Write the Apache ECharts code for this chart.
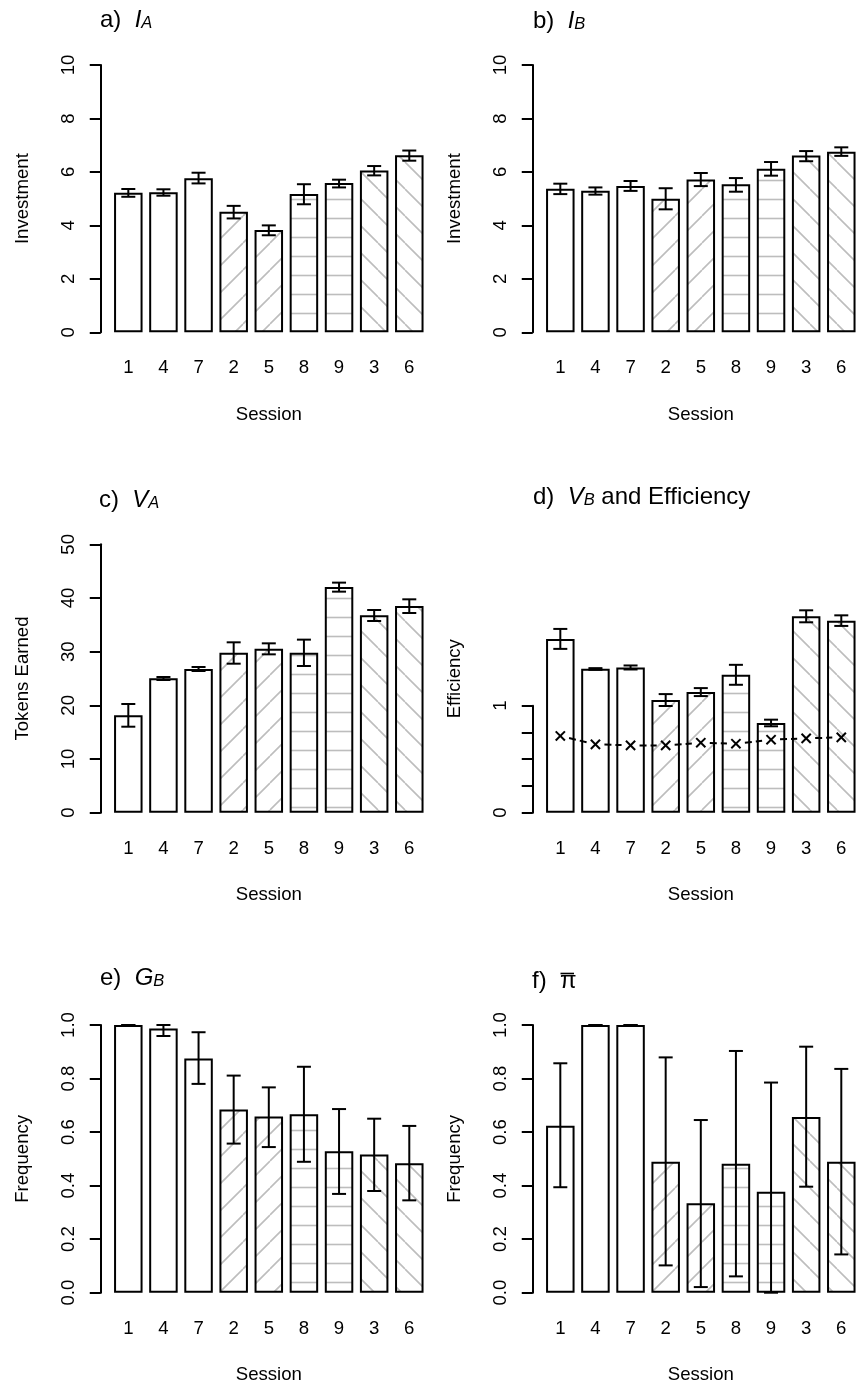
<!DOCTYPE html>
<html><head><meta charset="utf-8">
<script src="https://cdn.jsdelivr.net/npm/echarts@6/dist/echarts.min.js"></script>
<style>html,body{margin:0;padding:0;background:#fff}#c{width:859px;height:1389px}</style>
</head><body><div id="c"></div><script>
// ---------- data ----------
const sessions = ['1','4','7','2','5','8','9','3','6'];
const hatchKind = ['none','none','none','fwd','fwd','horiz','horiz','back','back'];

// a) I_A
const iaMean = [5.22,5.24,5.76,4.51,3.83,5.17,5.59,6.05,6.62];
const iaLo   = [5.07,5.11,5.57,4.26,3.63,4.79,5.42,5.87,6.42];
const iaHi   = [5.36,5.35,5.97,4.73,4.00,5.54,5.71,6.22,6.80];
// b) I_B
const ibMean = [5.37,5.30,5.47,5.00,5.72,5.54,6.12,6.61,6.75];
const ibLo   = [5.17,5.15,5.29,4.60,5.47,5.26,5.86,6.40,6.60];
const ibHi   = [5.56,5.42,5.66,5.39,5.96,5.77,6.37,6.78,6.92];
// c) V_A (tokens)
const vaMean = [18.14,25.03,26.77,29.81,30.56,29.81,42.05,36.77,38.51];
const vaLo   = [16.02,24.72,26.40,27.76,29.50,27.33,41.18,35.71,37.20];
const vaHi   = [20.25,25.28,27.14,31.74,31.55,32.24,42.86,37.76,39.75];
// d) V_B (tokens) and efficiency
const vbMean = [32.48,26.89,27.14,21.06,22.55,25.78,16.77,36.71,35.90];
const vbLo   = [30.62,26.71,26.77,19.94,21.80,23.91,16.15,35.59,34.91];
const vbHi   = [34.35,27.02,27.52,22.17,23.29,27.64,17.39,37.83,36.89];
const efficiency = [0.717,0.639,0.629,0.629,0.654,0.645,0.682,0.695,0.704];
// e) G_B
const gbMean = [1.000,0.987,0.875,0.684,0.658,0.667,0.528,0.516,0.484];
const gbLo   = [1.000,0.959,0.780,0.557,0.544,0.489,0.369,0.380,0.345];
const gbHi   = [1.000,1.000,0.973,0.811,0.767,0.844,0.686,0.650,0.623];
// f) pi-bar
const piMean = [0.624,1.000,1.000,0.489,0.334,0.482,0.377,0.656,0.489];
const piLo   = [0.394,1.000,1.000,0.102,0.021,0.061,0.000,0.396,0.143];
const piHi   = [0.857,1.000,1.000,0.879,0.645,0.903,0.785,0.919,0.836];

// ---------- styling ----------
const F = 'Liberation Sans, Arial, Helvetica, sans-serif';
const HATCH = '#bdbdbd';

function makePattern(kind){
  const s = kind === 'horiz' ? 19 : 27;
  const c = document.createElement('canvas');
  c.width = s; c.height = s;
  const g = c.getContext('2d');
  g.fillStyle = '#fff'; g.fillRect(0,0,s,s);
  g.strokeStyle = HATCH; g.lineWidth = 1.6;
  g.beginPath();
  if (kind === 'horiz') { g.moveTo(0, s/2); g.lineTo(s, s/2); }
  else if (kind === 'fwd') { for (let k=-1;k<=1;k++){ g.moveTo(k*s, s); g.lineTo(k*s+s, 0);} }
  else if (kind === 'back') { for (let k=-1;k<=1;k++){ g.moveTo(k*s, 0); g.lineTo(k*s+s, s);} }
  g.stroke();
  return {image: c, repeat: 'repeat'};
}
const patterns = {none:'#fff', fwd: makePattern('fwd'), horiz: makePattern('horiz'), back: makePattern('back')};

const panels = [
  {mean: iaMean, lo: iaLo, hi: iaHi, max:10, interval:2, name:'Investment', fmt: v => String(v)},
  {mean: ibMean, lo: ibLo, hi: ibHi, max:10, interval:2, name:'Investment', fmt: v => String(v)},
  {mean: vaMean, lo: vaLo, hi: vaHi, max:50, interval:10, name:'Tokens Earned', fmt: v => String(v)},
  {mean: vbMean, lo: vbLo, hi: vbHi, max:1, interval:0.25, name:'Efficiency', fmt: v => (v===0||v===1)?String(v):''},
  {mean: gbMean, lo: gbLo, hi: gbHi, max:1, interval:0.2, name:'Frequency', fmt: v => v.toFixed(1)},
  {mean: piMean, lo: piLo, hi: piHi, max:1, interval:0.2, name:'Frequency', fmt: v => v.toFixed(1)}
];
const gridPos = [
  {left:110.75, top:65,    height:267.3},
  {left:542.75, top:65,    height:267.3},
  {left:110.75, top:544.3, height:268.4},
  {left:542.75, top:705.7, height:107},
  {left:110.75, top:1025,  height:267.7},
  {left:542.75, top:1025,  height:267.7}
];

const grids = [], xAxes = [], yAxes = [], series = [];
const axisText = {fontSize:18.6, color:'#000', fontFamily:F};

panels.forEach((p, k) => {
  grids.push({left:gridPos[k].left, top:gridPos[k].top, width:316.1, height:gridPos[k].height, outerBoundsMode:'none', containLabel:false});
  xAxes.push({gridIndex:k, type:'category', data:sessions,
    axisLine:{show:false}, axisTick:{show:false}, splitLine:{show:false},
    axisLabel:Object.assign({margin:26.5, interval:0}, axisText),
    name:'Session', nameLocation:'middle', nameGap:73, nameTextStyle:axisText});
  const nts = Object.assign({}, axisText);
  if (k === 3) nts.padding = [0,0,0,161];
  yAxes.push({gridIndex:k, type:'value', min:0, max:p.max, interval:p.interval, offset:10,
    axisLine:{show:true, lineStyle:{color:'#000', width:2}},
    axisTick:{show:true, length:11, lineStyle:{color:'#000', width:2}},
    axisLabel:Object.assign({rotate:90, margin:22.5, formatter:p.fmt}, axisText),
    splitLine:{show:false},
    name:p.name, nameLocation:'middle', nameGap:68.5, nameRotate:90, nameTextStyle:nts});
});
// hidden token axis for panel d bars (1 efficiency unit = 20 tokens)
yAxes.push({gridIndex:3, type:'value', min:0, max:20, show:false});

panels.forEach((p, k) => {
  const yi = (k === 3) ? 6 : k;
  series.push({type:'bar', xAxisIndex:k, yAxisIndex:yi, barWidth:28.5, clip:false, z:2,
    data: p.mean.map((v,i) => ({value:v, itemStyle:{color:patterns[hatchKind[i]]}})),
    itemStyle:{borderColor:'#000', borderWidth:2}, emphasis:{disabled:true}, silent:true});
  series.push({type:'custom', xAxisIndex:k, yAxisIndex:yi, z:5, clip:false, silent:true,
    encode:{x:0, y:[1,2]},
    data: p.lo.map((v,i) => [i, v, p.hi[i]]),
    renderItem:(params, api) => {
      const a = api.coord([api.value(0), api.value(1)]);
      const b = api.coord([api.value(0), api.value(2)]);
      const w = 7, st = {stroke:'#000', lineWidth:2};
      return {type:'group', children:[
        {type:'line', shape:{x1:a[0],y1:a[1],x2:b[0],y2:b[1]}, style:st},
        {type:'line', shape:{x1:a[0]-w,y1:a[1],x2:a[0]+w,y2:a[1]}, style:st},
        {type:'line', shape:{x1:b[0]-w,y1:b[1],x2:b[0]+w,y2:b[1]}, style:st}
      ]};
    }});
});
// efficiency line (type 'b': points with dashed connecting segments)
series.push({type:'custom', xAxisIndex:3, yAxisIndex:3, z:6, clip:false, silent:true,
  encode:{x:0, y:1},
  data: efficiency.map((v,i) => [i, v]),
  renderItem:(params, api) => {
    const i = params.dataIndex;
    const p = api.coord([api.value(0), api.value(1)]);
    const r = 4.6, st = {stroke:'#000', lineWidth:2};
    const ch = [
      {type:'line', shape:{x1:p[0]-r,y1:p[1]-r,x2:p[0]+r,y2:p[1]+r}, style:st},
      {type:'line', shape:{x1:p[0]-r,y1:p[1]+r,x2:p[0]+r,y2:p[1]-r}, style:st}
    ];
    if (i < efficiency.length - 1) {
      const q = api.coord([i+1, efficiency[i+1]]);
      const dx = q[0]-p[0], dy = q[1]-p[1], L = Math.hypot(dx,dy), g = 9;
      ch.push({type:'line', shape:{x1:p[0]+dx*g/L, y1:p[1]+dy*g/L, x2:q[0]-dx*g/L, y2:q[1]-dy*g/L},
        style:{stroke:'#000', lineWidth:2, lineDash:[7,4]}});
    }
    return {type:'group', children:ch};
  }});

const rich = {
  n:{fontSize:24, fontFamily:F, color:'#000', fontWeight:'normal', lineHeight:30},
  i:{fontSize:24, fontFamily:F, color:'#000', fontWeight:'normal', fontStyle:'italic', lineHeight:30},
  s:{fontSize:16.5, fontFamily:F, color:'#000', fontWeight:'normal', fontStyle:'italic', lineHeight:30, padding:[7,0,0,0]}
};
function T(left, top, text){ return {left, top, text, padding:0, textStyle:{rich, fontFamily:F, fontWeight:'normal', fontSize:24, color:'#000'}}; }
const titles = [
  T(100, 5, '{n|a)  }{i|I}{s|A}'),
  T(533, 6, '{n|b)  }{i|I}{s|B}'),
  T(99, 485, '{n|c)  }{i|V}{s|A}'),
  T(533, 482, '{n|d)  }{i|V}{s|B}{n| and Efficiency}'),
  T(100, 963, '{n|e)  }{i|G}{s|B}'),
  T(532, 966.5, '{n|f)  π}')
];

const chart = echarts.init(document.getElementById('c'), null, {renderer:'canvas'});
chart.setOption({
  animation:false, backgroundColor:'#fff',
  textStyle:{fontFamily:F},
  title: titles, grid: grids, xAxis: xAxes, yAxis: yAxes, series: series,
  graphic: [{type:'line', shape:{x1:560.5, y1:973.5, x2:574, y2:973.5}, style:{stroke:'#000', lineWidth:1.6}}]
});
</script></body></html>
